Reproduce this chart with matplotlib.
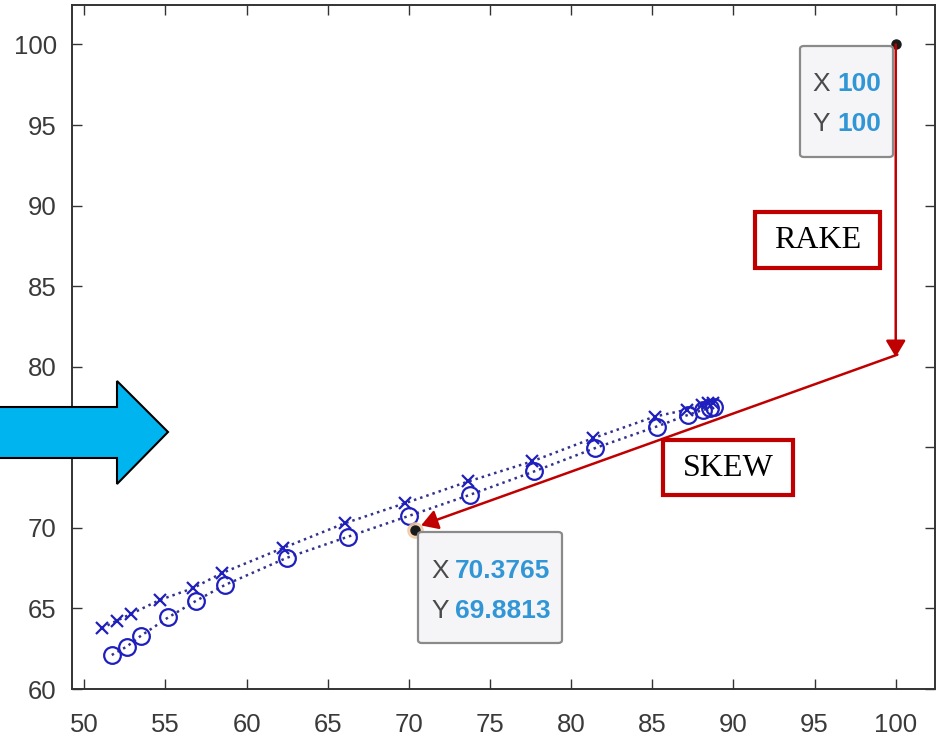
import matplotlib
matplotlib.use("Agg")
import matplotlib.pyplot as plt
from matplotlib import font_manager
from matplotlib.patches import Polygon, Rectangle, FancyBboxPatch

# ---------------- data ----------------
x_cross = [51.07, 52.00, 52.88, 54.66, 56.68, 58.47, 62.22, 66.06, 69.76,
           73.66, 77.57, 81.36, 85.16, 87.12, 88.04, 88.43, 88.74]
y_cross = [63.77, 64.24, 64.66, 65.53, 66.25, 67.19, 68.74, 70.29, 71.53,
           72.88, 74.12, 75.57, 76.91, 77.33, 77.64, 77.75, 77.78]
x_circ = [51.69, 52.61, 53.47, 55.18, 56.88, 58.67, 62.47, 66.27, 70.02,
          73.76, 77.71, 81.47, 85.27, 87.22, 88.14, 88.55, 88.80]
y_circ = [62.11, 62.63, 63.29, 64.45, 65.47, 66.46, 68.14, 69.46, 70.75,
          72.05, 73.50, 74.95, 76.29, 77.02, 77.33, 77.43, 77.53]
tip_x = [100.0, 70.3765]
tip_y = [100.0, 69.8813]
tip_labels = [("100", "100"), ("70.3765", "69.8813")]
x_ticks = [50, 55, 60, 65, 70, 75, 80, 85, 90, 95, 100]
y_ticks = [60, 65, 70, 75, 80, 85, 90, 95, 100]
rake_start = (100.0, 100.0)
rake_end = (100.0, 80.6)
skew_start = (100.1, 80.75)
skew_end = (70.75, 70.15)

# ---------------- fonts ----------------
names = {f.name for f in font_manager.fontManager.ttflist}
if "Liberation Sans Narrow" in names:
    SANS = "Liberation Sans Narrow"
    tick_fs = 20
    tip_fs = 21
else:
    SANS = "Liberation Sans"
    tick_fs = 18.5
    tip_fs = 19
SERIF = "Liberation Serif"

W, H = 948, 741
fig = plt.figure(figsize=(W / 100, H / 100), dpi=100)
fig.patch.set_facecolor("white")


def fp(px, py):
    return (px / W, 1 - py / H)


ax = fig.add_axes([72 / W, 1 - 689 / H, (935 - 72) / W, (689 - 5) / H])
ax.set_xlim(49.24, 102.42)
ax.set_ylim(60, 102.45)

blue = (0.12, 0.12, 0.75)
line_c = (0.2, 0.2, 0.55)
ax.plot(x_cross, y_cross, linestyle=(0, (1, 1.6)), color=line_c, lw=1.8,
        marker="x", markersize=9, markeredgewidth=1.6, markeredgecolor=blue,
        zorder=3)
ax.plot(x_circ, y_circ, linestyle=(0, (1, 1.6)), color=line_c, lw=1.8,
        marker="o", markersize=12, markerfacecolor="none",
        markeredgewidth=1.6, markeredgecolor=blue, zorder=3)

# datatip points
ax.plot(tip_x[1:], tip_y[1:], "o", markersize=11, color="#f0c8a0",
        alpha=0.8, zorder=4)
ax.plot(tip_x, tip_y, "o", markersize=6.5, color="#1a1a1a", zorder=5)

ax.set_xticks(x_ticks)
ax.set_yticks(y_ticks)
ax.tick_params(direction="in", length=7, width=1.0, color="#333333",
               top=True, right=True, labelsize=tick_fs, labelcolor="#3a3a3a")
ax.tick_params(axis="x", pad=17)
ax.tick_params(axis="y", pad=11)
for lab in ax.get_xticklabels() + ax.get_yticklabels():
    lab.set_fontfamily(SANS)
for sp in ax.spines.values():
    sp.set_color("#333333")
    sp.set_linewidth(1.4)

red = "#c00000"
ax.annotate("", xy=rake_end, xytext=rake_start,
            arrowprops=dict(arrowstyle="-|>,head_length=0.5,head_width=0.3",
                            mutation_scale=20, color=red, lw=1.8,
                            shrinkA=0, shrinkB=0), zorder=6)
ax.annotate("", xy=skew_end, xytext=skew_start,
            arrowprops=dict(arrowstyle="-|>,head_length=0.5,head_width=0.3",
                            mutation_scale=20, color=red, lw=1.8,
                            shrinkA=0, shrinkB=0), zorder=6)

# datatip boxes (figure pixel layout)
tip_boxes = [(800, 46, 893, 157), (418, 532, 562, 643)]
tip_text_x = [(812, 837), (431, 455)]
tip_text_y = [(84, 124), (571, 611)]
for (l, t, r, b), (xl, xv), (yx, yy), (vx, vy) in zip(tip_boxes, tip_text_x,
                                                     tip_text_y, tip_labels):
    x0, y0 = fp(l, b)
    x1, y1 = fp(r, t)
    box = FancyBboxPatch((x0, y0), x1 - x0, y1 - y0,
                         boxstyle="round,pad=0,rounding_size=0.004",
                         transform=fig.transFigure, facecolor="#f5f5f8",
                         edgecolor="#8a8a8a", lw=1.6, zorder=10)
    fig.add_artist(box)
    for lbl, val, ty in (("X", vx, yx), ("Y", vy, yy)):
        fig.text(*fp(xl, ty), lbl, fontsize=tip_fs, family=SANS,
                 color="#4a4a4a", va="center", ha="left", zorder=11)
        fig.text(*fp(xv, ty), val, fontsize=tip_fs, family=SANS,
                 color="#3196d6", fontweight="bold", va="center", ha="left",
                 zorder=11)

# RAKE / SKEW label boxes
for (l, t, r, b), txt in (((755, 212, 880, 268), "RAKE"),
                          ((663, 440, 793, 495), "SKEW")):
    x0, y0 = fp(l, b)
    x1, y1 = fp(r, t)
    fig.add_artist(Rectangle((x0, y0), x1 - x0, y1 - y0,
                             transform=fig.transFigure, facecolor="white",
                             edgecolor=red, lw=3.0, zorder=10))
    fig.text((x0 + x1) / 2, (y0 + y1) / 2 - 0.001, txt, family=SERIF,
             fontsize=23, color="black", ha="center", va="center", zorder=11)

# big blue arrow
arrow_px = [(-5, 407), (117, 407), (117, 381), (168, 432), (117, 484),
            (117, 458), (-5, 458)]
fig.add_artist(Polygon([fp(px, py) for px, py in arrow_px], closed=True,
                       transform=fig.transFigure, facecolor="#00b4f0",
                       edgecolor="black", lw=1.5, zorder=12))

fig.savefig("out.png", dpi=100)
